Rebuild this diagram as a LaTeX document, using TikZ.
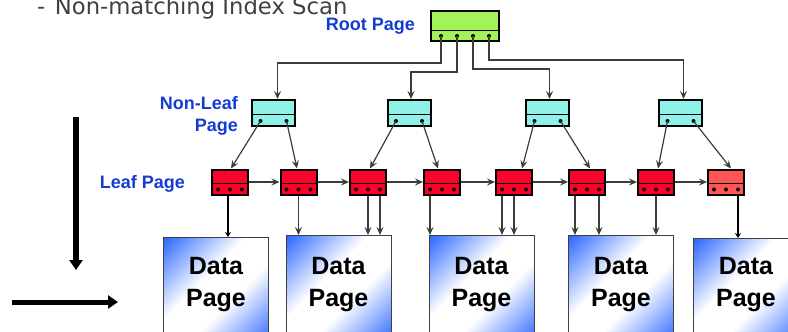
\documentclass[tikz,border=0pt]{standalone}
\usepackage{fontspec}
\setmainfont{Liberation Sans}
\newfontfamily\slidefont{DejaVu Sans}
\usetikzlibrary{calc,positioning,arrows.meta}

\definecolor{rootgreen}{RGB}{163,242,90}
\definecolor{nonleafcyan}{RGB}{142,242,232}
\definecolor{leafred}{RGB}{255,0,40}
\definecolor{leaflight}{RGB}{255,85,85}
\definecolor{labelblue}{RGB}{20,60,210}
\definecolor{pageblue}{RGB}{45,105,255}
\definecolor{textgray}{RGB}{64,64,64}
\definecolor{linegray}{RGB}{60,60,60}

\pgfdeclareverticalshading{pageshade}{100bp}{color(0bp)=(pageblue); color(15bp)=(pageblue); color(42bp)=(white); color(58bp)=(white); color(85bp)=(pageblue); color(100bp)=(pageblue)}

\begin{document}
\begin{tikzpicture}[x=1pt,y=-1pt,
    box/.style={draw=black,line width=2pt,inner sep=0pt},
    rootpage/.style={box,fill=rootgreen,minimum width=68pt,minimum height=30pt,
      path picture={
        \draw[black,line width=1pt] ([yshift=-4pt]path picture bounding box.west) -- ([yshift=-4pt]path picture bounding box.east);
        \foreach \dx in {-24,-8,8,24} \fill[black] ([xshift=\dx pt,yshift=-10pt]path picture bounding box.center) circle (2pt);}},
    nonleafpage/.style={box,fill=nonleafcyan,minimum width=43pt,minimum height=26pt,
      path picture={
        \draw[black,line width=1pt] ([yshift=-1.5pt]path picture bounding box.west) -- ([yshift=-1.5pt]path picture bounding box.east);
        \foreach \dx in {-13,13} \fill[black] ([xshift=\dx pt,yshift=-8pt]path picture bounding box.center) circle (2pt);}},
    leafpage/.style={box,fill=leafred,minimum width=36pt,minimum height=25pt,
      path picture={
        \draw[black,line width=1pt] ([yshift=-1.5pt]path picture bounding box.west) -- ([yshift=-1.5pt]path picture bounding box.east);
        \foreach \dx in {-12,0,12} \fill[black] ([xshift=\dx pt,yshift=-7.5pt]path picture bounding box.center) circle (2pt);}},
    datapage/.style={draw=black!75,line width=1pt,minimum width=105pt,minimum height=108pt,anchor=north,
      shading=pageshade,shading angle=45},
    pagetext/.style={font=\bfseries\fontsize{25}{32}\selectfont,align=center,inner sep=0pt},
    pagelabel/.style={text=labelblue,font=\bfseries\fontsize{18}{22}\selectfont,align=right,inner sep=0pt},
    link/.style={draw=linegray,line width=1.2pt,-{Stealth[length=8pt,width=7pt,inset=3pt]}},
    thicklink/.style={line width=2.4pt,-{Stealth[length=5pt,width=6pt]}},
    bigarrow/.style={line width=6pt,-{Triangle[length=10pt,width=13pt]}}]
  \useasboundingbox (0,0) rectangle (788,332);
  \clip (0,0) rectangle (788,332);

  % heading
  \node[anchor=base west,text=textgray,font=\slidefont\fontsize{22.7}{26}\selectfont,inner sep=0pt] (heading) at (37,14) {-\hspace{9.5pt}Non-matching Index Scan};

  % index pages
  \node[rootpage] (root) at (465,26) {};
  \node[nonleafpage] (nl1) at (273.5,113) {};
  \node[nonleafpage] (nl2) at (409,113) {};
  \node[nonleafpage] (nl3) at (547.5,113) {};
  \node[nonleafpage] (nl4) at (680.5,113) {};
  \node[leafpage] (lf1) at (230,182) {};
  \node[leafpage] (lf2) at (298.5,182) {};
  \node[leafpage] (lf3) at (368,182) {};
  \node[leafpage] (lf4) at (442,182) {};
  \node[leafpage] (lf5) at (514,182) {};
  \node[leafpage] (lf6) at (587,182) {};
  \node[leafpage] (lf7) at (656,182) {};
  \node[leafpage,fill=leaflight] (lf8) at (726,182) {};

  \node[pagelabel,left=15pt of root] (root label) {Root Page};
  \node[pagelabel,left=13pt of nl1,yshift=-3pt] (nonleaf label) {Non-Leaf\\Page};
  \node[pagelabel,left=26pt of lf1,yshift=-2pt] (leaf label) {Leaf Page};

  % data pages
  \node[datapage] (dp1) at (216,237) {};
  \node[datapage] (dp2) at (338.5,235) {};
  \node[datapage] (dp3) at (481.5,235) {};
  \node[datapage] (dp4) at (621,235) {};
  \node[datapage] (dp5) at (746,238) {};
  \node[pagetext] (dp1 text) at (216,285) {Data\\Page};
  \node[pagetext] (dp2 text) at (338.5,285) {Data\\Page};
  \node[pagetext] (dp3 text) at (481.5,285) {Data\\Page};
  \node[pagetext] (dp4 text) at (621,285) {Data\\Page};
  \node[pagetext] (dp5 text) at (746,285) {Data\\Page};

  % root to non-leaf
  \draw[link] ([xshift=-24pt,yshift=-10pt]root.center) -- ++(0,27) -| ([xshift=4pt]nl1.north);
  \draw[link] ([xshift=-8pt,yshift=-10pt]root.center) -- ++(0,36) -| ([xshift=2pt]nl2.north);
  \draw[link] ([xshift=8pt,yshift=-10pt]root.center) -- ++(0,33) -| ([xshift=2pt]nl3.north);
  \draw[link] ([xshift=24pt,yshift=-10pt]root.center) -- ++(0,24) -| ([xshift=3pt]nl4.north);

  % non-leaf to leaf
  \draw[link] ([xshift=-13pt,yshift=-8pt]nl1.center) -- ([xshift=1pt]lf1.north);
  \draw[link] ([xshift=13pt,yshift=-8pt]nl1.center) -- ([xshift=-1.5pt]lf2.north);
  \draw[link] ([xshift=-13pt,yshift=-8pt]nl2.center) -- ([xshift=2pt]lf3.north);
  \draw[link] ([xshift=13pt,yshift=-8pt]nl2.center) -- ([xshift=-4pt]lf4.north);
  \draw[link] ([xshift=-13pt,yshift=-8pt]nl3.center) -- ([xshift=8pt]lf5.north);
  \draw[link] ([xshift=13pt,yshift=-8pt]nl3.center) -- ([xshift=3pt]lf6.north);
  \draw[link] ([xshift=-13pt,yshift=-8pt]nl4.center) -- ([xshift=2pt]lf7.north);
  \draw[link] ([xshift=13pt,yshift=-8pt]nl4.center) -- ([xshift=5pt]lf8.north);

  % leaf chain
  \draw[link] (lf1) -- (lf2);
  \draw[link] (lf2) -- (lf3);
  \draw[link] (lf3) -- (lf4);
  \draw[link] (lf4) -- (lf5);
  \draw[link] (lf5) -- (lf6);
  \draw[link] (lf6) -- (lf7);
  \draw[link] (lf7) -- (lf8);

  % leaf to data
  \draw[thicklink] ([xshift=-2pt]lf1.south) -- ([xshift=12pt]dp1.north);
  \draw[link] (lf2.south) -- ([xshift=-40pt]dp2.north);
  \draw[link] (lf3.south) -- ([xshift=29.5pt]dp2.north);
  \draw[link] ([xshift=12pt]lf3.south) -- ([xshift=41.5pt]dp2.north);
  \draw[link] ([xshift=-12pt]lf4.south) -- ([xshift=-51.5pt]dp3.north);
  \draw[link] ([xshift=-12pt]lf5.south) -- ([xshift=20.5pt]dp3.north);
  \draw[link] (lf5.south) -- ([xshift=32.5pt]dp3.north);
  \draw[link] ([xshift=-12pt]lf6.south) -- ([xshift=-46pt]dp4.north);
  \draw[link] ([xshift=12pt]lf6.south) -- ([xshift=-22pt]dp4.north);
  \draw[link] (lf7.south) -- ([xshift=35pt]dp4.north);
  \draw[thicklink] ([xshift=12pt]lf8.south) -- ([xshift=-8pt]dp5.north);

  % scan direction
  \coordinate (down start) at (76,117);
  \coordinate (down end) at (76,270);
  \coordinate (across start) at (12,302);
  \coordinate (across end) at (118,302);
  \draw[bigarrow] (down start) -- (down end);
  \draw[bigarrow,line width=5pt] (across start) -- (across end);
\end{tikzpicture}
\end{document}
